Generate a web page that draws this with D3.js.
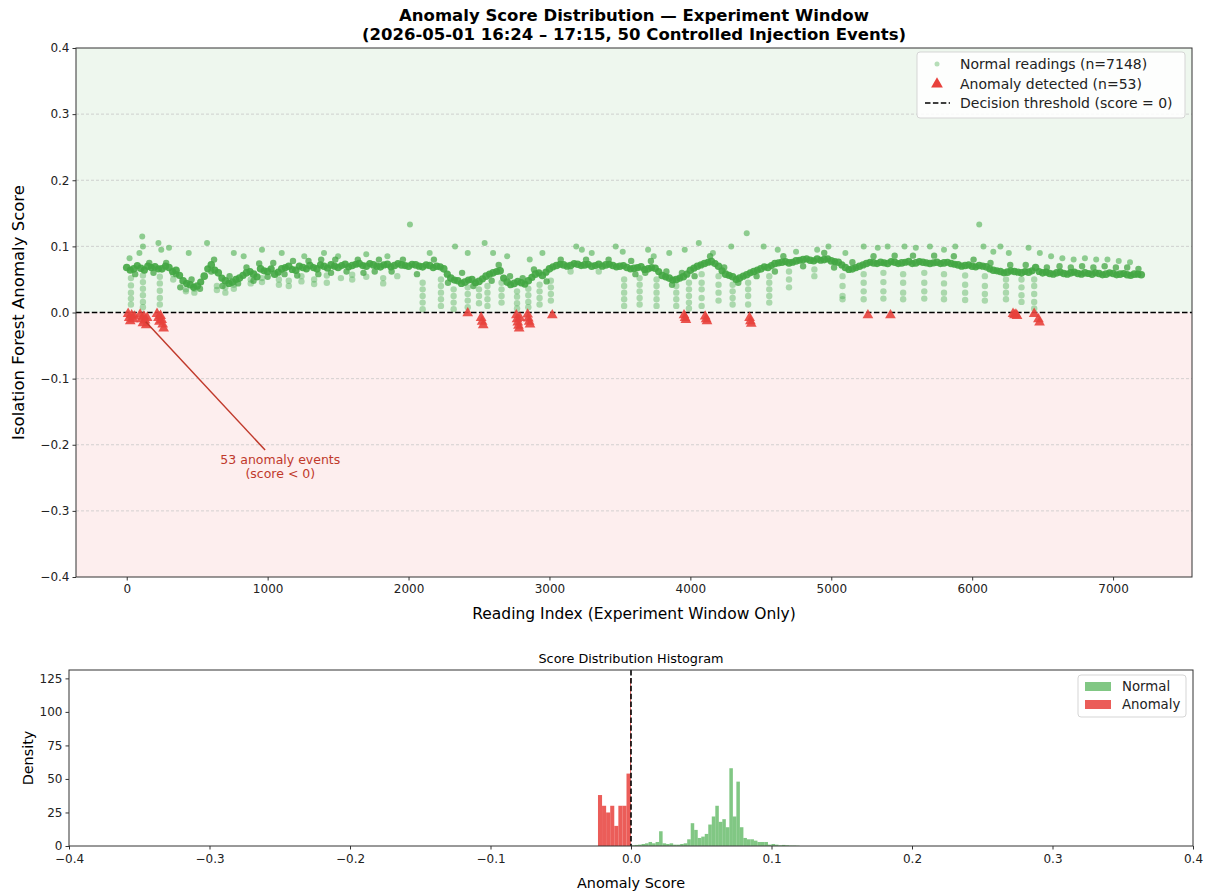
<!DOCTYPE html>
<html>
<head>
<meta charset="utf-8">
<script src="https://cdn.jsdelivr.net/npm/d3@7"></script>
<style>
    body { margin: 0; background: #fff; }
    svg { font-family: "DejaVu Sans", sans-serif; }
</style>
</head>
<body>
<div id="graph"></div>
<script>

// ---- data ----

// main band of normal readings, one value every 50 readings from index 0
var bandStep = 50;
var bandScore = [
    0.068, 0.066, 0.067, 0.070, 0.069, 0.066, 0.068, 0.064, 0.048, 0.042,
    0.040, 0.055, 0.072, 0.060, 0.048, 0.046, 0.052, 0.060, 0.058, 0.066,
    0.062, 0.058, 0.066, 0.070, 0.064, 0.068, 0.071, 0.066, 0.070, 0.072,
    0.068, 0.073, 0.071, 0.074, 0.070, 0.072, 0.069, 0.073, 0.071, 0.072,
    0.070, 0.072, 0.069, 0.071, 0.070, 0.066, 0.052, 0.048, 0.046, 0.050,
    0.047, 0.055, 0.060, 0.063, 0.046, 0.044, 0.045, 0.048, 0.058, 0.056,
    0.066, 0.071, 0.072, 0.071, 0.073, 0.072, 0.070, 0.073, 0.072, 0.071,
    0.070, 0.068, 0.067, 0.069, 0.066, 0.067, 0.056, 0.052, 0.050, 0.054,
    0.064, 0.070, 0.074, 0.077, 0.070, 0.058, 0.054, 0.052, 0.057, 0.062,
    0.066, 0.068, 0.074, 0.076, 0.075, 0.078, 0.080, 0.079, 0.081, 0.080,
    0.078, 0.076, 0.068, 0.066, 0.070, 0.074, 0.075, 0.076, 0.074, 0.076,
    0.075, 0.077, 0.075, 0.076, 0.074, 0.076, 0.075, 0.074, 0.072, 0.071,
    0.070, 0.071, 0.069, 0.064, 0.062, 0.061, 0.062, 0.060, 0.061, 0.068,
    0.060, 0.059, 0.060, 0.059, 0.060, 0.059, 0.060, 0.058, 0.059, 0.058,
    0.059, 0.058, 0.057, 0.058, 0.057
];

// same band read in between, at index 25, 75, 125 ...
var bandOffset = 25;
var bandScoreB = [
    0.064, 0.071, 0.064, 0.068, 0.066, 0.070, 0.062, 0.056, 0.044, 0.038,
    0.046, 0.066, 0.064, 0.052, 0.044, 0.050, 0.056, 0.062, 0.054, 0.063,
    0.066, 0.061, 0.068, 0.065, 0.070, 0.066, 0.068, 0.072, 0.067, 0.070,
    0.071, 0.069, 0.073, 0.071, 0.074, 0.070, 0.072, 0.069, 0.074, 0.071,
    0.073, 0.070, 0.072, 0.068, 0.069, 0.058, 0.049, 0.044, 0.049, 0.045,
    0.051, 0.058, 0.062, 0.052, 0.042, 0.047, 0.043, 0.053, 0.060, 0.061,
    0.069, 0.073, 0.070, 0.074, 0.071, 0.073, 0.071, 0.070, 0.073, 0.069,
    0.071, 0.066, 0.068, 0.065, 0.068, 0.062, 0.054, 0.049, 0.052, 0.058,
    0.067, 0.072, 0.076, 0.074, 0.063, 0.056, 0.050, 0.055, 0.060, 0.064,
    0.069, 0.071, 0.075, 0.077, 0.076, 0.079, 0.081, 0.078, 0.079, 0.081,
    0.077, 0.072, 0.065, 0.068, 0.072, 0.076, 0.074, 0.075, 0.077, 0.074,
    0.076, 0.074, 0.077, 0.075, 0.075, 0.074, 0.076, 0.073, 0.070, 0.072,
    0.069, 0.070, 0.066, 0.063, 0.060, 0.063, 0.061, 0.062, 0.063, 0.062,
    0.061, 0.058, 0.061, 0.058, 0.061, 0.058, 0.059, 0.060, 0.057, 0.060,
    0.057, 0.059, 0.056, 0.058
];

// darker normal readings scattered just off the band: [reading index, score]
var nearBand = [
    [60, 0.058], [160, 0.075], [190, 0.060], [280, 0.075], [350, 0.058], [380, 0.038],
    [460, 0.050], [520, 0.036], [600, 0.062], [620, 0.080], [680, 0.040], [730, 0.055],
    [790, 0.044], [850, 0.068], [900, 0.048], [940, 0.074], [1000, 0.054], [1040, 0.075],
    [1120, 0.058], [1180, 0.078], [1210, 0.056], [1290, 0.078], [1360, 0.058], [1380, 0.080],
    [1450, 0.060], [1480, 0.080], [1560, 0.062], [1640, 0.080], [1680, 0.060], [1760, 0.062],
    [1790, 0.080], [1880, 0.062], [1960, 0.080], [2060, 0.058], [2180, 0.080], [2280, 0.045],
    [2380, 0.060], [2460, 0.040], [2590, 0.048], [2640, 0.072], [2720, 0.055], [2810, 0.052],
    [2890, 0.065], [2980, 0.047], [3080, 0.080], [3260, 0.080], [3420, 0.080], [3580, 0.078],
    [3610, 0.058], [3680, 0.060], [3720, 0.078], [3830, 0.062], [3870, 0.042], [3940, 0.060],
    [4030, 0.055], [4140, 0.085], [4240, 0.068], [4340, 0.045], [4470, 0.055], [4600, 0.062],
    [4660, 0.085], [4800, 0.070], [4950, 0.090], [5020, 0.068], [5150, 0.076], [5300, 0.085],
    [5450, 0.086], [5580, 0.086], [5730, 0.086], [5870, 0.085], [6010, 0.080], [6130, 0.075],
    [6270, 0.072], [6380, 0.072], [6530, 0.068], [6620, 0.070], [6700, 0.068], [6780, 0.070],
    [6860, 0.068], [6940, 0.070], [7020, 0.068], [7100, 0.068], [7180, 0.066]
];

// vertical streaks of lower normal scores: [reading index, scores]
var streaks = [
    [30, [0.052, 0.041, 0.030, 0.021, 0.012]],
    [115, [0.056, 0.046, 0.036, 0.026, 0.016, 0.008]],
    [235, [0.054, 0.044, 0.033, 0.022, 0.012]],
    [330, [0.058, 0.050]],
    [420, [0.035, 0.032]],
    [480, [0.030, 0.036]],
    [640, [0.040, 0.034]],
    [700, [0.038, 0.030]],
    [760, [0.036, 0.042]],
    [880, [0.050, 0.044]],
    [960, [0.052, 0.046]],
    [1080, [0.050, 0.042]],
    [1150, [0.048, 0.040]],
    [1240, [0.055, 0.047]],
    [1330, [0.050, 0.043]],
    [1420, [0.056, 0.045]],
    [1520, [0.052]],
    [1600, [0.057, 0.050]],
    [1700, [0.054]],
    [1820, [0.052, 0.044]],
    [1920, [0.055]],
    [2100, [0.045, 0.035, 0.025, 0.015, 0.005]],
    [2230, [0.050, 0.040, 0.030, 0.020, 0.010]],
    [2320, [0.035, 0.025, 0.015, 0.005]],
    [2420, [0.038, 0.028, 0.018, 0.008]],
    [2500, [0.035, 0.025, 0.014]],
    [2560, [0.040, 0.030, 0.020, 0.010]],
    [2660, [0.045, 0.035, 0.025, 0.015]],
    [2770, [0.032, 0.024, 0.014, 0.006]],
    [2850, [0.036, 0.026, 0.016, 0.008]],
    [2930, [0.042, 0.032, 0.022, 0.012]],
    [3010, [0.048, 0.038, 0.028, 0.018]],
    [3150, [0.062]],
    [3350, [0.062]],
    [3530, [0.050, 0.040, 0.030, 0.020, 0.010]],
    [3640, [0.052, 0.042, 0.032, 0.022, 0.012]],
    [3760, [0.050, 0.040, 0.030, 0.020, 0.010]],
    [3900, [0.040, 0.030, 0.020, 0.010]],
    [3990, [0.045, 0.035, 0.025, 0.015, 0.006]],
    [4080, [0.058, 0.045, 0.035, 0.022, 0.010]],
    [4200, [0.055, 0.042, 0.030, 0.018]],
    [4300, [0.042, 0.032, 0.022, 0.012]],
    [4410, [0.045, 0.035, 0.025, 0.012]],
    [4560, [0.055, 0.045, 0.035, 0.025, 0.015]],
    [4700, [0.062, 0.050, 0.038]],
    [4880, [0.065, 0.055]],
    [5080, [0.055, 0.040, 0.025, 0.020]],
    [5230, [0.058, 0.045, 0.032, 0.020]],
    [5370, [0.060, 0.046, 0.032, 0.021]],
    [5510, [0.058, 0.045, 0.030, 0.020]],
    [5660, [0.060, 0.045, 0.032, 0.021]],
    [5800, [0.058, 0.044, 0.030, 0.020]],
    [5950, [0.056, 0.042, 0.030, 0.019]],
    [6090, [0.055, 0.040, 0.028, 0.018]],
    [6240, [0.050, 0.040, 0.030, 0.020]],
    [6350, [0.050, 0.038, 0.026, 0.016]],
    [6440, [0.050, 0.040, 0.028, 0.016, 0.006]]
];

// normal readings above the band: [reading index, score]
var upperPoints = [
    [20, 0.082], [90, 0.090], [110, 0.115], [115, 0.100], [225, 0.105], [245, 0.095],
    [300, 0.098], [440, 0.090], [570, 0.105], [760, 0.090], [830, 0.085], [960, 0.095],
    [1100, 0.090], [1260, 0.085], [1400, 0.090], [1500, 0.085], [1700, 0.088], [1850, 0.085],
    [2010, 0.133], [2150, 0.090], [2330, 0.100], [2420, 0.090], [2540, 0.105], [2600, 0.090],
    [2700, 0.085], [2860, 0.080], [2950, 0.090], [3190, 0.100], [3230, 0.095], [3300, 0.090],
    [3470, 0.100], [3520, 0.092], [3700, 0.095], [3740, 0.085], [3850, 0.090], [3960, 0.095],
    [4060, 0.105], [4160, 0.090], [4290, 0.100], [4400, 0.120], [4520, 0.100], [4620, 0.095],
    [4750, 0.092], [4900, 0.095], [4980, 0.100], [5100, 0.090], [5230, 0.100], [5330, 0.098],
    [5400, 0.100], [5520, 0.100], [5600, 0.098], [5700, 0.100], [5800, 0.095], [5880, 0.100],
    [6050, 0.133], [6080, 0.100], [6150, 0.092], [6200, 0.100], [6260, 0.090], [6400, 0.098],
    [6480, 0.090], [6560, 0.085], [6640, 0.082], [6720, 0.080], [6800, 0.082], [6880, 0.080],
    [6960, 0.080], [7040, 0.078], [7120, 0.076]
];

// detected anomalies: [reading index, score]
var anomalies = [
    [10, -0.002], [18, -0.008], [25, -0.013], [35, -0.004], [45, -0.010], [55, -0.006],
    [95, -0.003], [105, -0.010], [115, -0.016], [122, -0.006], [130, -0.012], [138, -0.019],
    [145, -0.008], [215, -0.002], [225, -0.008], [232, -0.014], [240, -0.005], [248, -0.011],
    [255, -0.018], [262, -0.024],
    [2420, -0.001],
    [2515, -0.008], [2522, -0.014], [2530, -0.019],
    [2765, -0.004], [2770, -0.010], [2775, -0.015], [2780, -0.020], [2785, -0.024], [2790, -0.008],
    [2845, -0.003], [2850, -0.009], [2856, -0.014], [2862, -0.018],
    [3020, -0.004],
    [3955, -0.004], [3962, -0.008], [3968, -0.011],
    [4105, -0.006], [4112, -0.010], [4118, -0.013],
    [4420, -0.008], [4426, -0.013], [4432, -0.017],
    [5260, -0.004],
    [5420, -0.004],
    [6290, -0.002], [6300, -0.004], [6310, -0.003], [6318, -0.005],
    [6440, -0.002], [6470, -0.010], [6478, -0.015]
];

// histogram: normal scores, bins of 0.0025 starting at 0
var normalBinStart = 0;
var normalBinWidth = 0.0025;
var normalDensity = [
    0.5, 0.8, 1.0, 1.5, 2.0, 3.0, 2.0, 3.0, 11, 2.0,
    1.5, 2.0, 1.0, 1.0, 1.5, 2.0, 5.0, 17, 12, 6.0,
    7.0, 9.0, 16, 22, 30, 18, 20, 14, 58, 22,
    48, 14, 6.0, 5.0, 5.0, 4.0, 3.0, 3.0, 3.0, 1.0,
    1.5, 1.0, 0.5, 0.8, 0.5, 0.3, 0.3, 0.2
];

// histogram: anomaly scores, bin edges and density
var anomalyEdges = [-0.0235, -0.0206, -0.0177, -0.0148, -0.0119, -0.0090, -0.0061, -0.0032, -0.0006, 0];
var anomalyDensity = [38, 30, 25, 30, 15, 30, 30, 54, 125];

var yTicksMain = [-0.4, -0.3, -0.2, -0.1, 0.0, 0.1, 0.2, 0.3, 0.4];
var xTicksMain = [0, 1000, 2000, 3000, 4000, 5000, 6000, 7000];
var xTicksHist = [-0.4, -0.3, -0.2, -0.1, 0.0, 0.1, 0.2, 0.3, 0.4];
var yTicksHist = [0, 25, 50, 75, 100, 125];

// ---- drawing ----

var width = 1215;
var height = 892;

var green = '#4caf50';
var bandGreen = '#43a643';
var red = '#e8413c';
var darkRed = '#c0392b';

var svg = d3.select('#graph')
    .append('svg')
    .attr('width', width)
    .attr('height', height);

// main panel scales
var main = { left: 76, right: 1192, top: 48, bottom: 577 };
var x = d3.scaleLinear().domain([-360, 7560]).range([main.left, main.right]);
var y = d3.scaleLinear().domain([-0.4, 0.4]).range([main.bottom, main.top]);

var fmt1 = d3.format('.1f');

var gMain = svg.append('g');

// shaded normal / anomaly zones
gMain.append('rect')
    .attr('x', main.left).attr('y', y(0.4))
    .attr('width', main.right - main.left).attr('height', y(0) - y(0.4))
    .attr('fill', '#eef7ee');
gMain.append('rect')
    .attr('x', main.left).attr('y', y(0))
    .attr('width', main.right - main.left).attr('height', y(-0.4) - y(0))
    .attr('fill', '#fdeeee');

// grid
gMain.append('g').selectAll('line')
    .data(yTicksMain.filter(d => d !== 0 && Math.abs(d) < 0.4))
    .enter().append('line')
    .attr('x1', main.left).attr('x2', main.right)
    .attr('y1', d => y(d)).attr('y2', d => y(d))
    .attr('stroke', '#c8c8c8')
    .attr('stroke-width', 0.8)
    .attr('stroke-dasharray', '3,2');

// scatter: streaks below band
var streakPts = [];
streaks.forEach(function(s) {
    s[1].forEach(function(v) { streakPts.push([s[0], v]); });
});

gMain.append('g').selectAll('circle')
    .data(streakPts)
    .enter().append('circle')
    .attr('cx', d => x(d[0]))
    .attr('cy', d => y(d[1]))
    .attr('r', 3.2)
    .attr('fill', green)
    .attr('opacity', 0.42);

gMain.append('g').selectAll('circle')
    .data(upperPoints)
    .enter().append('circle')
    .attr('cx', d => x(d[0]))
    .attr('cy', d => y(d[1]))
    .attr('r', 3)
    .attr('fill', green)
    .attr('opacity', 0.6);

gMain.append('g').selectAll('circle')
    .data(nearBand)
    .enter().append('circle')
    .attr('cx', d => x(d[0]))
    .attr('cy', d => y(d[1]))
    .attr('r', 3.2)
    .attr('fill', bandGreen)
    .attr('opacity', 0.75);

// main band
gMain.append('g').selectAll('circle')
    .data(bandScoreB)
    .enter().append('circle')
    .attr('cx', (d, i) => x(bandOffset + i * bandStep))
    .attr('cy', d => y(d))
    .attr('r', 3.6)
    .attr('fill', bandGreen)
    .attr('opacity', 0.9);
gMain.append('g').selectAll('circle')
    .data(bandScore)
    .enter().append('circle')
    .attr('cx', (d, i) => x(i * bandStep))
    .attr('cy', d => y(d))
    .attr('r', 3.8)
    .attr('fill', bandGreen)
    .attr('opacity', 0.9);

// threshold
gMain.append('line')
    .attr('x1', main.left).attr('x2', main.right)
    .attr('y1', y(0)).attr('y2', y(0))
    .attr('stroke', '#000')
    .attr('stroke-width', 1.6)
    .attr('stroke-dasharray', '5.5,2.4');

// anomalies
var tri = d3.symbol().type(d3.symbolTriangle).size(50);
gMain.append('g').selectAll('path')
    .data(anomalies)
    .enter().append('path')
    .attr('d', tri)
    .attr('transform', d => 'translate(' + x(d[0]) + ',' + y(d[1]) + ')')
    .attr('fill', red)
    .attr('opacity', 0.9);

// annotation
gMain.append('line')
    .attr('x1', x(135)).attr('y1', y(-0.014))
    .attr('x2', x(982)).attr('y2', y(-0.208))
    .attr('stroke', darkRed)
    .attr('stroke-width', 1.5);
var ann = gMain.append('text')
    .attr('text-anchor', 'middle')
    .attr('fill', darkRed)
    .style('font-size', '12.5px');
ann.append('tspan').attr('x', x(1090)).attr('y', y(-0.229)).text('53 anomaly events');
ann.append('tspan').attr('x', x(1090)).attr('y', y(-0.25)).text('(score < 0)');

// axes
var axL = gMain.append('g')
    .attr('transform', 'translate(' + main.left + ',0)')
    .call(d3.axisLeft(y).tickValues(yTicksMain).tickFormat(fmt1).tickSize(3.5).tickPadding(3));
var axB = gMain.append('g')
    .attr('transform', 'translate(0,' + main.bottom + ')')
    .call(d3.axisBottom(x).tickValues(xTicksMain).tickFormat(d3.format('d')).tickSize(3.5).tickPadding(4));
[axL, axB].forEach(function(a) {
    a.select('.domain').remove();
    a.selectAll('text').style('font-size', '12px').attr('fill', '#222').style('font-family', '"DejaVu Sans", sans-serif');
    a.selectAll('line').attr('stroke', '#333');
});

gMain.append('rect')
    .attr('x', main.left).attr('y', main.top)
    .attr('width', main.right - main.left).attr('height', main.bottom - main.top)
    .attr('fill', 'none').attr('stroke', '#333').attr('stroke-width', 1);

// titles
svg.append('text')
    .attr('x', (main.left + main.right) / 2).attr('y', 21)
    .attr('text-anchor', 'middle')
    .style('font-size', '16.5px').style('font-weight', 'bold')
    .text('Anomaly Score Distribution — Experiment Window');
svg.append('text')
    .attr('x', (main.left + main.right) / 2).attr('y', 40)
    .attr('text-anchor', 'middle')
    .style('font-size', '16.5px').style('font-weight', 'bold')
    .text('(2026-05-01 16:24 – 17:15, 50 Controlled Injection Events)');

svg.append('text')
    .attr('x', (main.left + main.right) / 2).attr('y', 619)
    .attr('text-anchor', 'middle')
    .style('font-size', '15.5px')
    .text('Reading Index (Experiment Window Only)');
svg.append('text')
    .attr('transform', 'translate(24,' + (main.top + main.bottom) / 2 + ') rotate(-90)')
    .attr('text-anchor', 'middle')
    .style('font-size', '16.5px')
    .text('Isolation Forest Anomaly Score');

// main legend
var leg = gMain.append('g').attr('transform', 'translate(917,52)');
leg.append('rect')
    .attr('width', 268).attr('height', 66).attr('rx', 3)
    .attr('fill', '#fff').attr('fill-opacity', 0.85)
    .attr('stroke', '#d5d5d5');
leg.append('circle').attr('cx', 20).attr('cy', 12).attr('r', 2.5).attr('fill', green).attr('opacity', 0.4);
leg.append('path').attr('d', d3.symbol().type(d3.symbolTriangle).size(60)).attr('transform', 'translate(20,32)').attr('fill', red);
leg.append('line').attr('x1', 8).attr('x2', 33).attr('y1', 51).attr('y2', 51)
    .attr('stroke', '#000').attr('stroke-width', 1.6).attr('stroke-dasharray', '5.5,2.4');
var legText = ['Normal readings (n=7148)', 'Anomaly detected (n=53)', 'Decision threshold (score = 0)'];
leg.selectAll('.lt').data(legText).enter().append('text')
    .attr('class', 'lt')
    .attr('x', 43).attr('y', (d, i) => 17 + i * 19.5)
    .style('font-size', '14px').attr('fill', '#222')
    .text(d => d);

// ---- histogram panel ----
var hist = { left: 69, right: 1193, top: 670, bottom: 846 };
var hx = d3.scaleLinear().domain([-0.4, 0.4]).range([hist.left, hist.right]);
var hy = d3.scaleLinear().domain([0, 131.25]).range([hist.bottom, hist.top]);

var gHist = svg.append('g');

gHist.append('g').selectAll('rect')
    .data(normalDensity)
    .enter().append('rect')
    .attr('x', (d, i) => hx(normalBinStart + i * normalBinWidth))
    .attr('width', (d, i) => hx(normalBinStart + (i + 1) * normalBinWidth) - hx(normalBinStart + i * normalBinWidth))
    .attr('y', d => hy(d))
    .attr('height', d => hy(0) - hy(d))
    .attr('fill', green)
    .attr('opacity', 0.7);

gHist.append('g').selectAll('rect')
    .data(anomalyDensity)
    .enter().append('rect')
    .attr('x', (d, i) => hx(anomalyEdges[i]))
    .attr('width', (d, i) => hx(anomalyEdges[i + 1]) - hx(anomalyEdges[i]))
    .attr('y', d => hy(d))
    .attr('height', d => hy(0) - hy(d))
    .attr('fill', red)
    .attr('opacity', 0.85);

gHist.append('line')
    .attr('x1', hx(0)).attr('x2', hx(0))
    .attr('y1', hist.top).attr('y2', hist.bottom)
    .attr('stroke', '#000')
    .attr('stroke-width', 1.6)
    .attr('stroke-dasharray', '5.5,2.4');

var hL = gHist.append('g')
    .attr('transform', 'translate(' + hist.left + ',0)')
    .call(d3.axisLeft(hy).tickValues(yTicksHist).tickFormat(d3.format('d')).tickSize(3.5).tickPadding(3));
var hB = gHist.append('g')
    .attr('transform', 'translate(0,' + hist.bottom + ')')
    .call(d3.axisBottom(hx).tickValues(xTicksHist).tickFormat(fmt1).tickSize(3.5).tickPadding(5));
[hL, hB].forEach(function(a) {
    a.select('.domain').remove();
    a.selectAll('text').style('font-size', '12px').attr('fill', '#222').style('font-family', '"DejaVu Sans", sans-serif');
    a.selectAll('line').attr('stroke', '#333');
});

gHist.append('rect')
    .attr('x', hist.left).attr('y', hist.top)
    .attr('width', hist.right - hist.left).attr('height', hist.bottom - hist.top)
    .attr('fill', 'none').attr('stroke', '#333').attr('stroke-width', 1);

svg.append('text')
    .attr('x', (hist.left + hist.right) / 2).attr('y', 663)
    .attr('text-anchor', 'middle')
    .style('font-size', '12.8px')
    .text('Score Distribution Histogram');
svg.append('text')
    .attr('x', (hist.left + hist.right) / 2).attr('y', 888)
    .attr('text-anchor', 'middle')
    .style('font-size', '14.4px')
    .text('Anomaly Score');
svg.append('text')
    .attr('transform', 'translate(33,' + (hist.top + hist.bottom) / 2 + ') rotate(-90)')
    .attr('text-anchor', 'middle')
    .style('font-size', '14.4px')
    .text('Density');

// histogram legend
var hleg = gHist.append('g').attr('transform', 'translate(1078,675)');
hleg.append('rect')
    .attr('width', 108).attr('height', 42).attr('rx', 3)
    .attr('fill', '#fff').attr('stroke', '#d5d5d5');
var hlegItems = [['Normal', green, 0.7], ['Anomaly', red, 0.85]];
hleg.selectAll('.sw').data(hlegItems).enter().append('rect')
    .attr('class', 'sw')
    .attr('x', 7).attr('y', (d, i) => 7 + i * 18)
    .attr('width', 26).attr('height', 9)
    .attr('fill', d => d[1]).attr('opacity', d => d[2]);
hleg.selectAll('.ht').data(hlegItems).enter().append('text')
    .attr('class', 'ht')
    .attr('x', 44).attr('y', (d, i) => 16 + i * 18)
    .style('font-size', '13.3px').attr('fill', '#222')
    .text(d => d[0]);

</script>
</body>
</html>
